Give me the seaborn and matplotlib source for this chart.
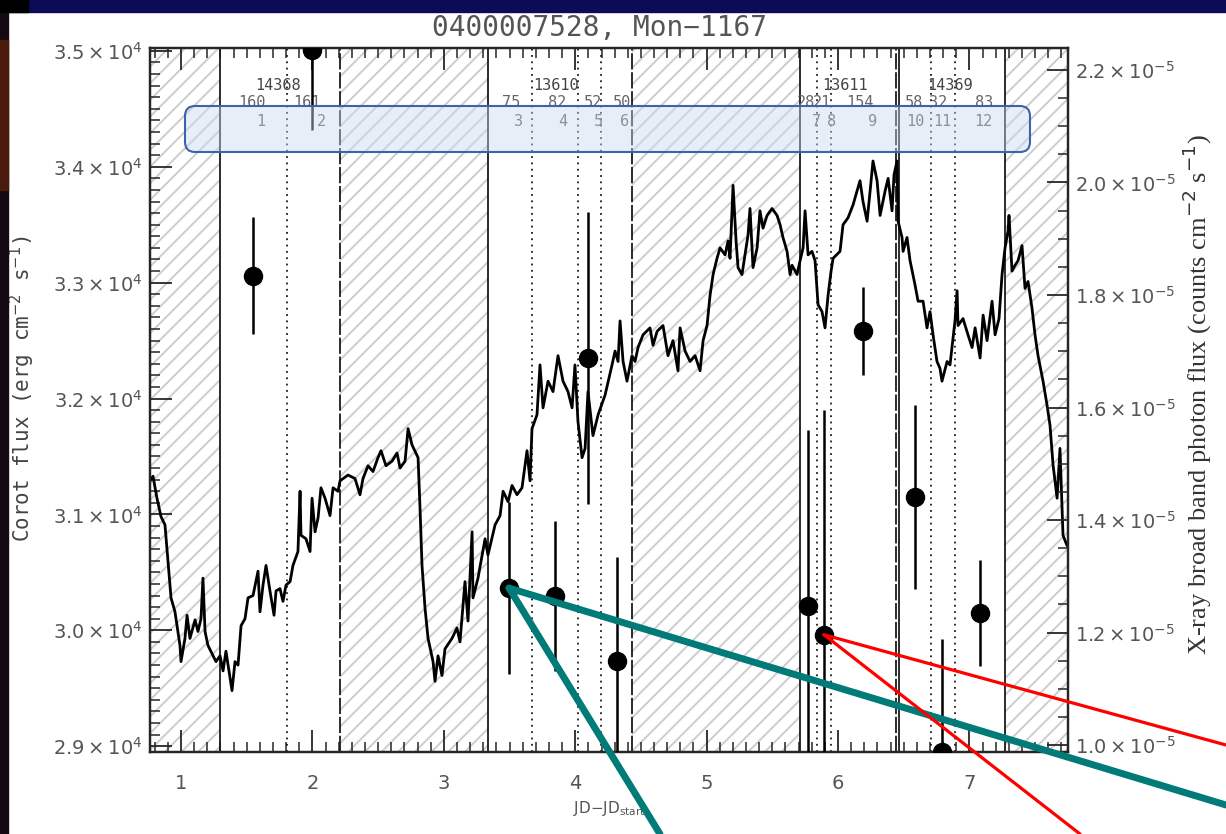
import matplotlib
matplotlib.use("Agg")
import matplotlib.pyplot as plt
import pandas as pd
import seaborn as sns
from matplotlib.patches import FancyBboxPatch, Rectangle, ConnectionPatch
from matplotlib.transforms import IdentityTransform
from matplotlib.ticker import MultipleLocator, FuncFormatter

# -- CoRoT optical light curve (JD - JD_start, erg cm^-2 s^-1)
corot_jd = [
    0.764, 0.787, 0.817, 0.848, 0.878, 0.924, 0.954, 0.992, 1.000, 1.030,
    1.046, 1.068, 1.107, 1.129, 1.152, 1.167, 1.183, 1.205, 1.244, 1.266,
    1.297, 1.320, 1.342, 1.373, 1.388, 1.411, 1.434, 1.457, 1.487, 1.510,
    1.548, 1.586, 1.601, 1.624, 1.647, 1.677, 1.708, 1.723, 1.753, 1.776,
    1.799, 1.830, 1.852, 1.890, 1.906, 1.913, 1.951, 1.982, 1.997, 2.020,
    2.043, 2.065, 2.096, 2.134, 2.157, 2.195, 2.210, 2.271, 2.324, 2.362,
    2.385, 2.423, 2.461, 2.499, 2.522, 2.560, 2.606, 2.644, 2.667, 2.705,
    2.728, 2.758, 2.804, 2.819, 2.834, 2.857, 2.880, 2.918, 2.933, 2.956,
    2.986, 3.009, 3.062, 3.100, 3.123, 3.161, 3.184, 3.215, 3.222, 3.260,
    3.314, 3.336, 3.390, 3.428, 3.451, 3.489, 3.519, 3.557, 3.595, 3.633,
    3.656, 3.671, 3.709, 3.732, 3.755, 3.793, 3.831, 3.869, 3.907, 3.945,
    3.976, 3.998, 4.021, 4.052, 4.075, 4.097, 4.135, 4.174, 4.227, 4.280,
    4.303, 4.326, 4.341, 4.364, 4.394, 4.432, 4.455, 4.478, 4.516, 4.569,
    4.592, 4.623, 4.668, 4.706, 4.744, 4.782, 4.798, 4.836, 4.874, 4.912,
    4.950, 4.973, 5.003, 5.026, 5.049, 5.079, 5.102, 5.140, 5.163, 5.178,
    5.201, 5.224, 5.239, 5.269, 5.292, 5.315, 5.330, 5.353, 5.384, 5.406,
    5.429, 5.460, 5.498, 5.536, 5.559, 5.581, 5.612, 5.635, 5.650, 5.688,
    5.711, 5.734, 5.749, 5.772, 5.802, 5.825, 5.848, 5.878, 5.901, 5.924,
    5.947, 5.962, 6.015, 6.038, 6.076, 6.114, 6.152, 6.167, 6.190, 6.221,
    6.244, 6.266, 6.297, 6.320, 6.358, 6.381, 6.411, 6.426, 6.449, 6.457,
    6.487, 6.495, 6.525, 6.548, 6.586, 6.609, 6.647, 6.677, 6.700, 6.723,
    6.753, 6.776, 6.791, 6.830, 6.852, 6.890, 6.906, 6.913, 6.951, 6.989,
    7.020, 7.043, 7.081, 7.104, 7.134, 7.172, 7.195, 7.225, 7.248, 7.271,
    7.294, 7.301, 7.324, 7.347, 7.370, 7.400, 7.423, 7.446, 7.476, 7.499,
    7.522, 7.560, 7.591, 7.613, 7.636, 7.667, 7.689, 7.712, 7.743,
]
corot_flux = [
    31290, 31330, 31140, 30980, 30910, 30280, 30160, 29870, 29730, 29930,
    30130, 29930, 30090, 29990, 30100, 30450, 29990, 29870, 29780, 29730,
    29780, 29650, 29820, 29590, 29480, 29730, 29700, 30040, 30100, 30280,
    30300, 30510, 30160, 30390, 30560, 30340, 30130, 30340, 30360, 30250,
    30390, 30420, 30560, 30680, 31200, 30820, 30790, 30680, 31140, 30850,
    30970, 31230, 31140, 30990, 31230, 31200, 31290, 31340, 31310, 31170,
    31310, 31420, 31370, 31490, 31550, 31420, 31460, 31530, 31400, 31460,
    31740, 31600, 31490, 31050, 30560, 30190, 29930, 29730, 29560, 29780,
    29610, 29840, 29930, 30020, 29900, 30420, 30080, 30850, 30280, 30450,
    30790, 30650, 30910, 30990, 31200, 31110, 31250, 31170, 31230, 31550,
    31290, 31740, 31860, 32290, 31920, 32150, 32060, 32370, 32150, 32060,
    31920, 32290, 31800, 31490, 31570, 32060, 31680, 31860, 32030, 32290,
    32410, 32320, 32670, 32320, 32150, 32370, 32320, 32440, 32550, 32610,
    32460, 32580, 32630, 32370, 32500, 32240, 32610, 32410, 32320, 32370,
    32240, 32500, 32630, 32890, 33070, 33210, 33300, 33240, 33360, 33210,
    33840, 33360, 33130, 33070, 33240, 33410, 33640, 33130, 33300, 33620,
    33470, 33580, 33640, 33580, 33500, 33390, 33270, 33070, 33150, 33070,
    33190, 33300, 33620, 33240, 33270, 33190, 32810, 32750, 32610, 32890,
    33100, 33210, 33270, 33500, 33560, 33670, 33820, 33880, 33700, 33530,
    33790, 34050, 33880, 33580, 33790, 33900, 33620, 33930, 34050, 33530,
    33390, 33270, 33390, 33190, 32980, 32840, 32840, 32610, 32750, 32550,
    32320, 32260, 32150, 32320, 32290, 32670, 32930, 32630, 32690, 32550,
    32440, 32610, 32350, 32720, 32500, 32840, 32550, 32690, 33070, 33300,
    33450, 33580, 33100, 33150, 33190, 33320, 32950, 33010, 32780, 32550,
    32370, 32150, 31940, 31770, 31430, 31140, 31570, 30820, 30730,
]

# -- X-ray broad band photon flux per segment (units of 1e-5 counts cm^-2 s^-1)
xray_jd = [1.548, 1.997, 3.496, 3.846, 4.097, 4.318, 5.772, 5.893, 6.190, 6.586, 6.790, 7.080]
xray_flux = [1.834, 2.236, 1.279, 1.265, 1.688, 1.149, 1.247, 1.196, 1.736, 1.441, 0.988, 1.235]
xray_err = [0.104, 0.143, 0.153, 0.133, 0.260, 0.185, 0.313, 0.400, 0.078, 0.163, 0.200, 0.094]

# -- observation gaps (hatched) and segment boundaries
gap_start = [0.764, 2.210, 4.432, 7.271]
gap_end = [1.297, 3.336, 5.711, 7.750]
edges_solid = [1.297, 3.336, 5.711, 6.465, 7.271]
edges_dashed = [2.210, 4.432, 6.442]
seg_dividers = [1.807, 3.671, 4.021, 4.196, 5.840, 5.947, 6.708, 6.890]

obsid_labels = ["14368", "13610", "13611", "14369"]
obsid_x = [1.74, 3.85, 6.05, 6.85]
counts_labels = ["160", "161", "75", "82", "52", "50", "28", "21", "154", "58", "32", "83"]
counts_x = [1.540, 1.959, 3.511, 3.861, 4.135, 4.356, 5.756, 5.878, 6.167, 6.578, 6.761, 7.111]
seg_labels = ["1", "2", "3", "4", "5", "6", "7", "8", "9", "10", "11", "12"]
seg_x = [1.609, 2.065, 3.565, 3.907, 4.174, 4.379, 5.840, 5.947, 6.259, 6.586, 6.791, 7.104]

W, H = 1226, 834

sns.set_theme(style="ticks")
plt.rcParams["font.family"] = ["DejaVu Sans"]
plt.rcParams["mathtext.fontset"] = "dejavusans"
plt.rcParams["hatch.linewidth"] = 1.4

fig = plt.figure(figsize=(W / 100, H / 100), dpi=100)
fig.patch.set_facecolor("white")
ax = fig.add_axes([150 / W, 1 - 752 / H, 918 / W, 704 / H])
ax.set_facecolor("none")

# -- hatched gaps
for a, b in zip(gap_start, gap_end):
    ax.axvspan(a, b, facecolor="none", edgecolor="#cdcdcd", hatch="//", lw=0, zorder=0)

for x in edges_solid:
    ax.axvline(x, color="k", lw=1.3, zorder=1)
for x in edges_dashed:
    ax.axvline(x, color="k", lw=1.3, ls=(0, (9, 1.5)), zorder=1)
for x in seg_dividers:
    ax.axvline(x, color="k", lw=1.3, ls=(0, (1, 2.5)), zorder=1)

# -- optical light curve
lc = pd.DataFrame({"jd": corot_jd, "flux": corot_flux})
sns.lineplot(data=lc, x="jd", y="flux", ax=ax, color="black", lw=2.0,
             sort=False, estimator=None, zorder=3)

ax.set_xlim(0.764, 7.750)
ax.set_ylim(28950, 35025)
ax.xaxis.set_major_locator(MultipleLocator(1))
ax.xaxis.set_minor_locator(MultipleLocator(0.1))
ax.yaxis.set_major_locator(MultipleLocator(1000))
ax.yaxis.set_minor_locator(MultipleLocator(100))
ax.yaxis.set_major_formatter(FuncFormatter(lambda v, p: rf"${v / 1e4:.1f}\times10^{{4}}$"))
ax.tick_params(axis="x", which="both", direction="in", top=True, bottom=True,
               labelsize=14, labelcolor="#555555", pad=16)
ax.tick_params(axis="y", which="both", direction="in", left=True, right=False,
               labelsize=14, labelcolor="#555555", pad=5)
ax.tick_params(which="major", length=16, width=1.3)
ax.tick_params(which="minor", length=7, width=1.1)
ax.set_xlabel(r"JD$-$JD$_{\rm start}$", fontsize=11, color="#555555", labelpad=4)
ax.set_ylabel("")
for s in ax.spines.values():
    s.set_linewidth(1.6)
    s.set_color("black")

# -- X-ray points on the twin axis
ax2 = ax.twinx()
ax2.errorbar(xray_jd, xray_flux, yerr=xray_err, fmt="o", color="black",
             ms=13, elinewidth=1.8, capsize=0, zorder=4)
ax2.set_ylim(0.9876, 2.2391)
ax2.yaxis.set_major_locator(MultipleLocator(0.2))
ax2.yaxis.set_minor_locator(MultipleLocator(0.05))
ax2.yaxis.set_major_formatter(FuncFormatter(lambda v, p: rf"${v:.1f}\times10^{{-5}}$"))
ax2.tick_params(axis="y", which="both", direction="in", labelsize=14,
                labelcolor="#555555", pad=5)
ax2.tick_params(which="major", length=15, width=1.3)
ax2.tick_params(which="minor", length=7, width=1.1)
for s in ax2.spines.values():
    s.set_linewidth(1.6)

# -- segment annotations at the top
tr = ax.get_xaxis_transform()
for x, s in zip(obsid_x, obsid_labels):
    ax.text(x, 0.947, s, transform=tr, ha="center", va="center", fontsize=11,
            color="#444444", family="DejaVu Sans Mono")
for x, s in zip(counts_x, counts_labels):
    ax.text(x, 0.922, s, transform=tr, ha="center", va="center", fontsize=11,
            color="#666666", family="DejaVu Sans Mono")
for x, s in zip(seg_x, seg_labels):
    ax.text(x, 0.896, s, transform=tr, ha="center", va="center", fontsize=11,
            color="#555555", family="DejaVu Sans Mono")

# -- titles and axis labels
fig.text(600 / W, 1 - 28 / H, "0400007528, Mon\u22121167", ha="center", va="center",
         fontsize=20, color="#555555", family="DejaVu Sans Mono")
fig.text(22 / W, 1 - 389 / H, r"Corot flux (erg cm$^{-2}$ s$^{-1}$)", rotation=90,
         ha="center", va="center", fontsize=15, color="#444444", family="DejaVu Sans Mono")
fig.text(1197 / W, 1 - 395 / H,
         r"X-ray broad band photon flux (counts cm$^{-2}$ s$^{-1}$)", rotation=90,
         ha="center", va="center", fontsize=19, color="#333333", family="Liberation Serif")

# -- slide decorations: highlight box, frame strips, pointer lines
box = FancyBboxPatch((185, H - 152), 845, 46, boxstyle="round,pad=0,rounding_size=10",
                     transform=IdentityTransform(), facecolor=(0.80, 0.86, 0.94, 0.45),
                     edgecolor="#3a64ad", lw=1.5, zorder=10)
fig.add_artist(box)
fig.add_artist(Rectangle((0, 1 - 12 / H), 1, 12 / H, transform=fig.transFigure,
                         color="#0b0b58", zorder=11))
fig.add_artist(Rectangle((0, 1 - 12 / H), 28 / W, 12 / H, transform=fig.transFigure,
                         color="#000000", zorder=12))
fig.add_artist(Rectangle((0, 0), 8 / W, 1 - 12 / H, transform=fig.transFigure,
                         color="#140a12", zorder=11))
fig.add_artist(Rectangle((0, 1 - 190 / H), 8 / W, 150 / H, transform=fig.transFigure,
                         color="#4a1a0c", zorder=12))

pointers = [
    (2, (1.0, 1 - 805 / H), "#007b78", 5.0),
    (2, (660 / W, 0.0), "#007b78", 5.0),
    (7, (1.0, 1 - 745 / H), "#ff0000", 2.3),
    (7, (1080 / W, 0.0), "#ff0000", 2.3),
]
for i, end, col, lw in pointers:
    con = ConnectionPatch(xyA=(xray_jd[i], xray_flux[i]), coordsA=ax2.transData,
                          xyB=end, coordsB=fig.transFigure, color=col, lw=lw,
                          zorder=20)
    fig.add_artist(con)

fig.savefig("out.png", dpi=100)
